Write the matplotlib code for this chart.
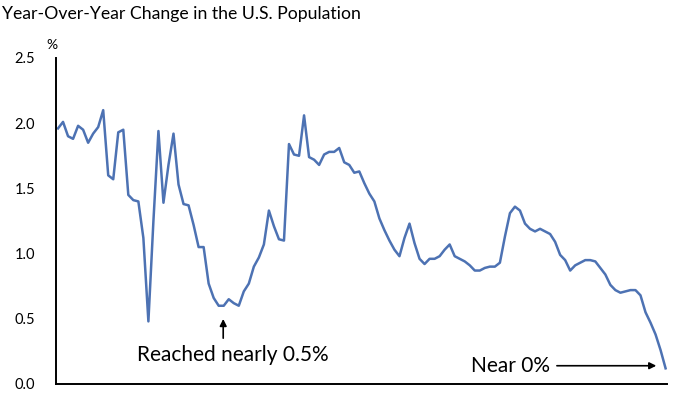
import matplotlib
matplotlib.use("Agg")
import matplotlib.pyplot as plt
import numpy as np

# Datos: variación interanual de la población de EE.UU. (%)
anios = list(range(1900, 2022))
variacion = [
    1.96, 2.01, 1.90, 1.88, 1.98, 1.95, 1.85, 1.92, 1.97, 2.10,
    1.60, 1.57, 1.93, 1.95, 1.45, 1.41, 1.40, 1.12, 0.48, 1.25,
    1.94, 1.39, 1.68, 1.92, 1.53, 1.38, 1.37, 1.22, 1.05, 1.05,
    0.77, 0.66, 0.60, 0.60, 0.65, 0.62, 0.60, 0.71, 0.77, 0.90,
    0.97, 1.07, 1.33, 1.21, 1.11, 1.10, 1.84, 1.76, 1.75, 2.06,
    1.74, 1.72, 1.68, 1.76, 1.78, 1.78, 1.81, 1.70, 1.68, 1.62,
    1.63, 1.54, 1.46, 1.40, 1.27, 1.18, 1.10, 1.03, 0.98, 1.12,
    1.23, 1.08, 0.96, 0.92, 0.96, 0.96, 0.98, 1.03, 1.07, 0.98,
    0.96, 0.94, 0.91, 0.87, 0.87, 0.89, 0.90, 0.90, 0.93, 1.13,
    1.31, 1.36, 1.33, 1.23, 1.19, 1.17, 1.19, 1.17, 1.15, 1.09,
    0.99, 0.95, 0.87, 0.91, 0.93, 0.95, 0.95, 0.94, 0.89, 0.84,
    0.76, 0.72, 0.70, 0.71, 0.72, 0.72, 0.68, 0.55, 0.47, 0.38,
    0.26, 0.12,
]
ticks_y = [0.0, 0.5, 1.0, 1.5, 2.0, 2.5]

plt.rcParams['font.family'] = ['Lato', 'DejaVu Sans']

fig = plt.figure(figsize=(7, 3.94), dpi=100)
ax = fig.add_axes([0.08, 0.0254, 0.873, 0.8274])

ax.plot(anios, variacion, color="#4d72b3", linewidth=1.8)

ax.set_xlim(anios[0] - 0.4, anios[-1] + 0.3)
ax.set_ylim(0, 2.5)
ax.set_yticks(ticks_y)
ax.set_yticklabels([f"{v:.1f}" for v in ticks_y], fontsize=10.5)
ax.set_xticks([])
ax.tick_params(axis="y", length=0, pad=15)
for s in ["top", "right"]:
    ax.spines[s].set_visible(False)
for s in ["left", "bottom"]:
    ax.spines[s].set_linewidth(1.4)
    ax.spines[s].set_color("black")

fig.text(0.003, 0.965, "Year-Over-Year Change in the U.S. Population",
         fontsize=12.7, ha="left", va="center")
fig.text(0.074, 0.885, "%", fontsize=10, ha="center", va="center")

# Anotaciones
i_min = 33  # mínimo de los años 30
ax.annotate("", xy=(anios[i_min] - 0.1, 0.52), xytext=(anios[i_min] - 0.1, 0.33),
            arrowprops=dict(arrowstyle="-|>", color="black", lw=1.2, mutation_scale=10))
ax.text(anios[i_min] + 1.9, 0.22, "Reached nearly 0.5%", fontsize=15,
        ha="center", va="center")

ax.annotate("", xy=(anios[-1] - 1.3, 0.14), xytext=(1998.8, 0.14),
            arrowprops=dict(arrowstyle="-|>", color="black", lw=1.2, mutation_scale=10))
ax.text(1997.9, 0.14, "Near 0%", fontsize=15, ha="right", va="center")

fig.savefig("out.png", dpi=100)
